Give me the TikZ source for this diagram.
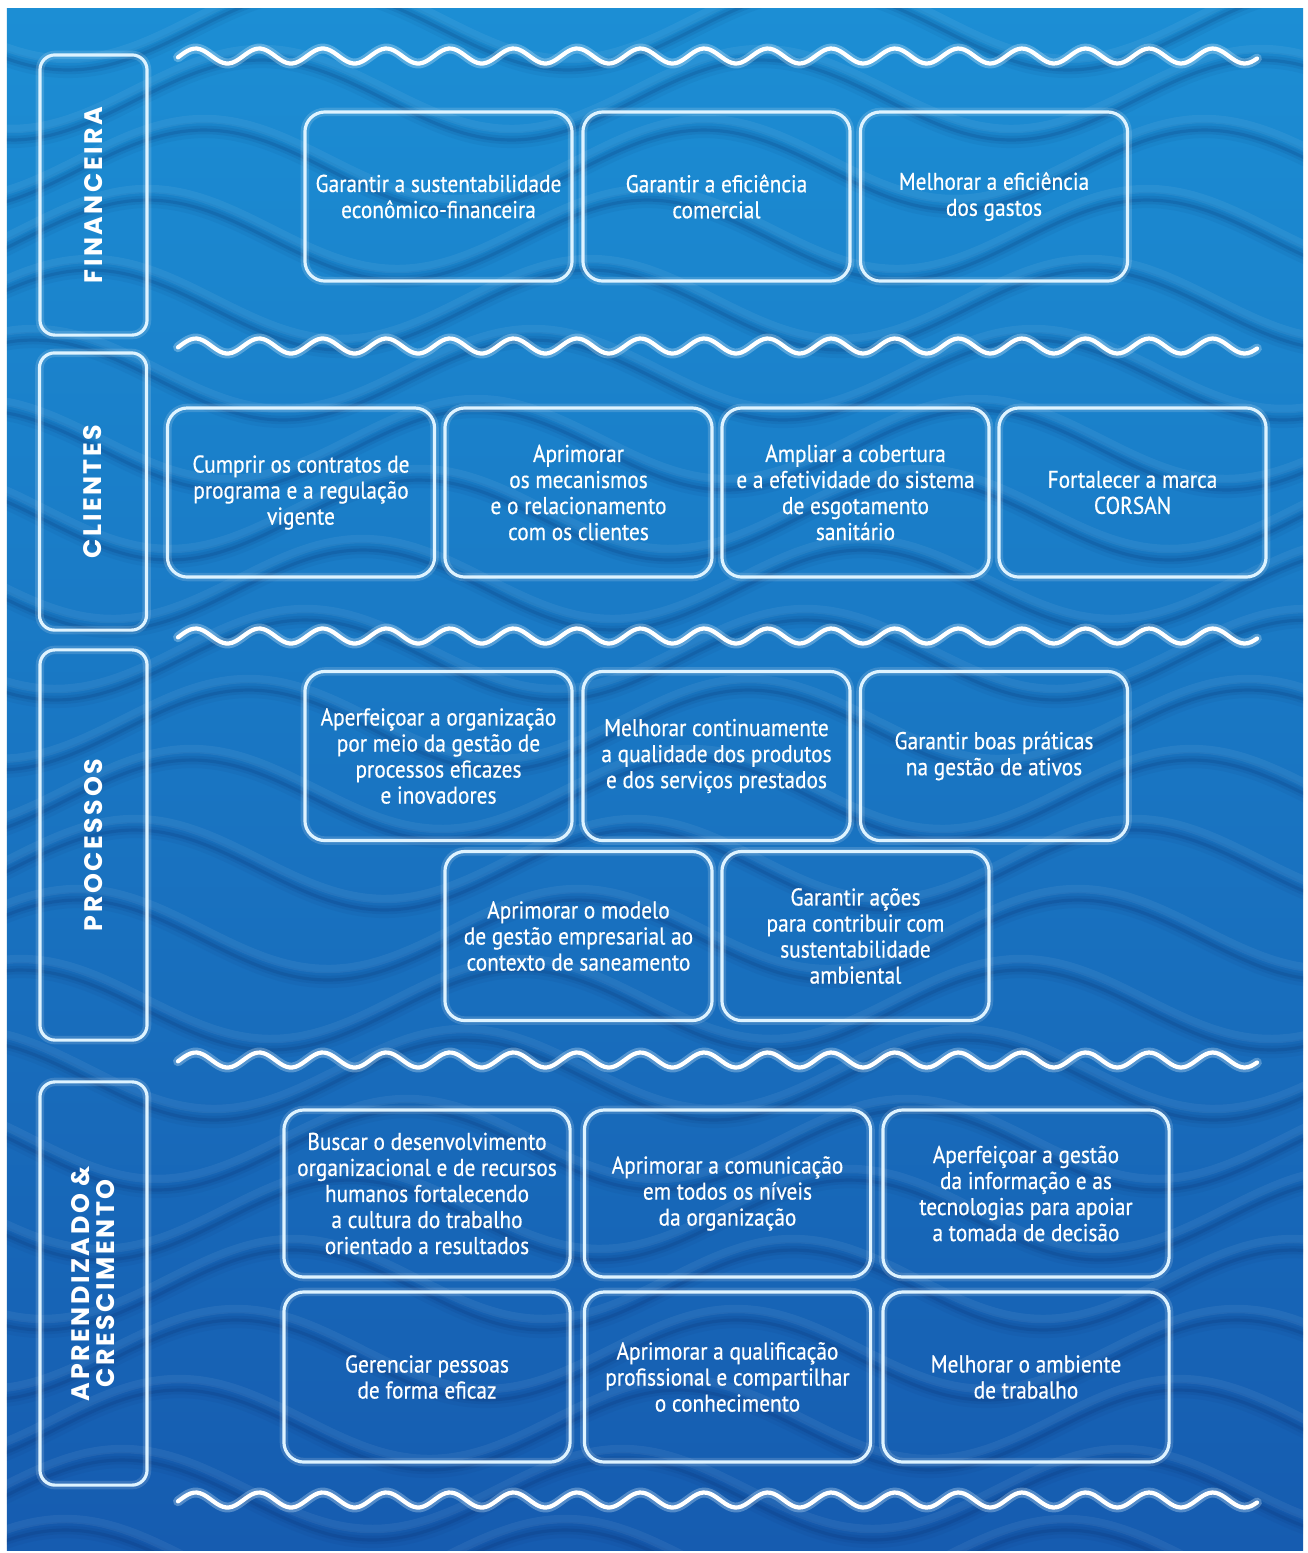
\documentclass[tikz,border=0pt]{standalone}
\usepackage{fontspec}
\newfontfamily\boxfont[FakeStretch=0.88, FakeBold=0.5]{PT Sans}
\newfontfamily\labfont[LetterSpace=10]{Poppins}
\definecolor{bgtop}{RGB}{28,142,212}
\definecolor{bgbot}{RGB}{22,92,176}
\definecolor{bgdark}{RGB}{8,40,100}
\definecolor{boxline}{RGB}{222,243,255}
\tikzset{
  obj/.style={draw=boxline, line width=0.9pt, rounded corners=0.2cm,
    preaction={draw=white, line width=2.4pt, opacity=0.15},
    minimum width=2.67cm, minimum height=1.69cm, align=center, text=white,
    inner sep=0pt, font=\boxfont\fontsize{6.9}{7.4}\selectfont},
  wide/.style={minimum width=2.86cm},
  labbox/.style={draw=boxline, line width=0.9pt, rounded corners=0.15cm,
    preaction={draw=white, line width=2.4pt, opacity=0.15},
    rotate=90, minimum height=1.07cm, align=center, text=white, inner sep=0pt,
    font=\labfont\bfseries\fontsize{7.2}{7.1}\selectfont},
  wline/.style={draw=white, line width=1.2pt, line cap=round,
    preaction={draw=boxline, line width=2.8pt, opacity=0.3, line cap=round}},
}
\begin{document}
\begin{tikzpicture}[x=0.01cm, y=-0.01cm]
\useasboundingbox (0,0) rectangle (1308,1553);
\fill[white] (0,0) rectangle (1308,1553);
\shade[top color=bgtop, bottom color=bgbot] (7,8) rectangle (1303,1550);
% background relief waves
\begin{scope}
\clip (7,8) rectangle (1303,1550);
\foreach \k in {0,...,23} {
  \pgfmathsetmacro{\yb}{-40+70*\k}
  \pgfmathsetmacro{\ph}{41*\k}
  \draw[draw=bgdark, line width=4.6pt, opacity=0.06] plot[domain=0:1310, samples=80, smooth, variable=\t] (\t, {\yb + 40*sin(0.72*\t + \ph)});
  \draw[draw=bgdark, line width=2.4pt, opacity=0.09] plot[domain=0:1310, samples=80, smooth, variable=\t] (\t, {\yb + 40*sin(0.72*\t + \ph)});
  \draw[draw=bgdark, line width=0.9pt, opacity=0.15] plot[domain=0:1310, samples=80, smooth, variable=\t] (\t, {\yb + 40*sin(0.72*\t + \ph)});
  \draw[draw=white, line width=2.4pt, opacity=0.06] plot[domain=0:1310, samples=80, smooth, variable=\t] (\t, {\yb - 11 + 40*sin(0.72*\t + \ph)});
}
\end{scope}
% white separator waves
\foreach \yc in {56,346,636,1060,1500} {
  \draw[wline] plot[domain=178:1257, samples=340, smooth, variable=\t] (\t, {\yc - 7.5*sin(5.663*(\t-178) - 10)});
}
% side labels
\node[labbox, minimum width=2.80cm] (lfin) at (93.5,195) {FINANCEIRA};
\node[labbox, minimum width=2.77cm] (lcli) at (93,491.5) {CLIENTES};
\node[labbox, minimum width=3.90cm] (lpro) at (93.5,845) {PROCESSOS};
\node[labbox, minimum width=4.03cm] (lapr) at (93.5,1283.5) {APRENDIZADO \&\\CRESCIMENTO};
% Financeira
\node[obj] (f1) at (438.5,196.5) {Garantir a sustentabilidade\\econômico-financeira};
\node[obj] (f2) at (716.5,196.5) {Garantir a eficiência\\comercial};
\node[obj] (f3) at (994,196.5) {Melhorar a eficiência\\dos gastos};
% Clientes
\node[obj] (c1) at (301,492.5) {Cumprir os contratos de\\programa e a regulação\\vigente};
\node[obj] (c2) at (578.5,492.5) {Aprimorar\\os mecanismos\\e o relacionamento\\com os clientes};
\node[obj] (c3) at (855.5,492.5) {Ampliar a cobertura\\e a efetividade do sistema\\de esgotamento\\sanitário};
\node[obj] (c4) at (1132.5,492.5) {Fortalecer a marca\\CORSAN};
% Processos
\node[obj] (p1) at (438.5,756) {Aperfeiçoar a organização\\por meio da gestão de\\processos eficazes\\e inovadores};
\node[obj] (p2) at (716.5,756) {Melhorar continuamente\\a qualidade dos produtos\\e dos serviços prestados};
\node[obj] (p3) at (994,756) {Garantir boas práticas\\na gestão de ativos};
\node[obj] (p4) at (578.5,936) {Aprimorar o modelo\\de gestão empresarial ao\\contexto de saneamento};
\node[obj] (p5) at (855.5,936) {Garantir ações\\para contribuir com\\sustentabilidade\\ambiental};
% Aprendizado
\node[obj, wide, minimum height=1.67cm] (a1) at (427,1193.5) {Buscar o desenvolvimento\\organizacional e de recursos\\humanos fortalecendo\\a cultura do trabalho\\orientado a resultados};
\node[obj, wide, minimum height=1.67cm] (a2) at (727.5,1193.5) {Aprimorar a comunicação\\em todos os níveis\\da organização};
\node[obj, wide, minimum height=1.67cm] (a3) at (1026,1193.5) {Aperfeiçoar a gestão\\da informação e as\\tecnologias para apoiar\\a tomada de decisão};
\node[obj, wide, minimum height=1.70cm] (a4) at (427,1377) {Gerenciar pessoas\\de forma eficaz};
\node[obj, wide, minimum height=1.70cm] (a5) at (727.5,1377) {Aprimorar a qualificação\\profissional e compartilhar\\o conhecimento};
\node[obj, wide, minimum height=1.70cm] (a6) at (1026,1377) {Melhorar o ambiente\\de trabalho};
\end{tikzpicture}
\end{document}
